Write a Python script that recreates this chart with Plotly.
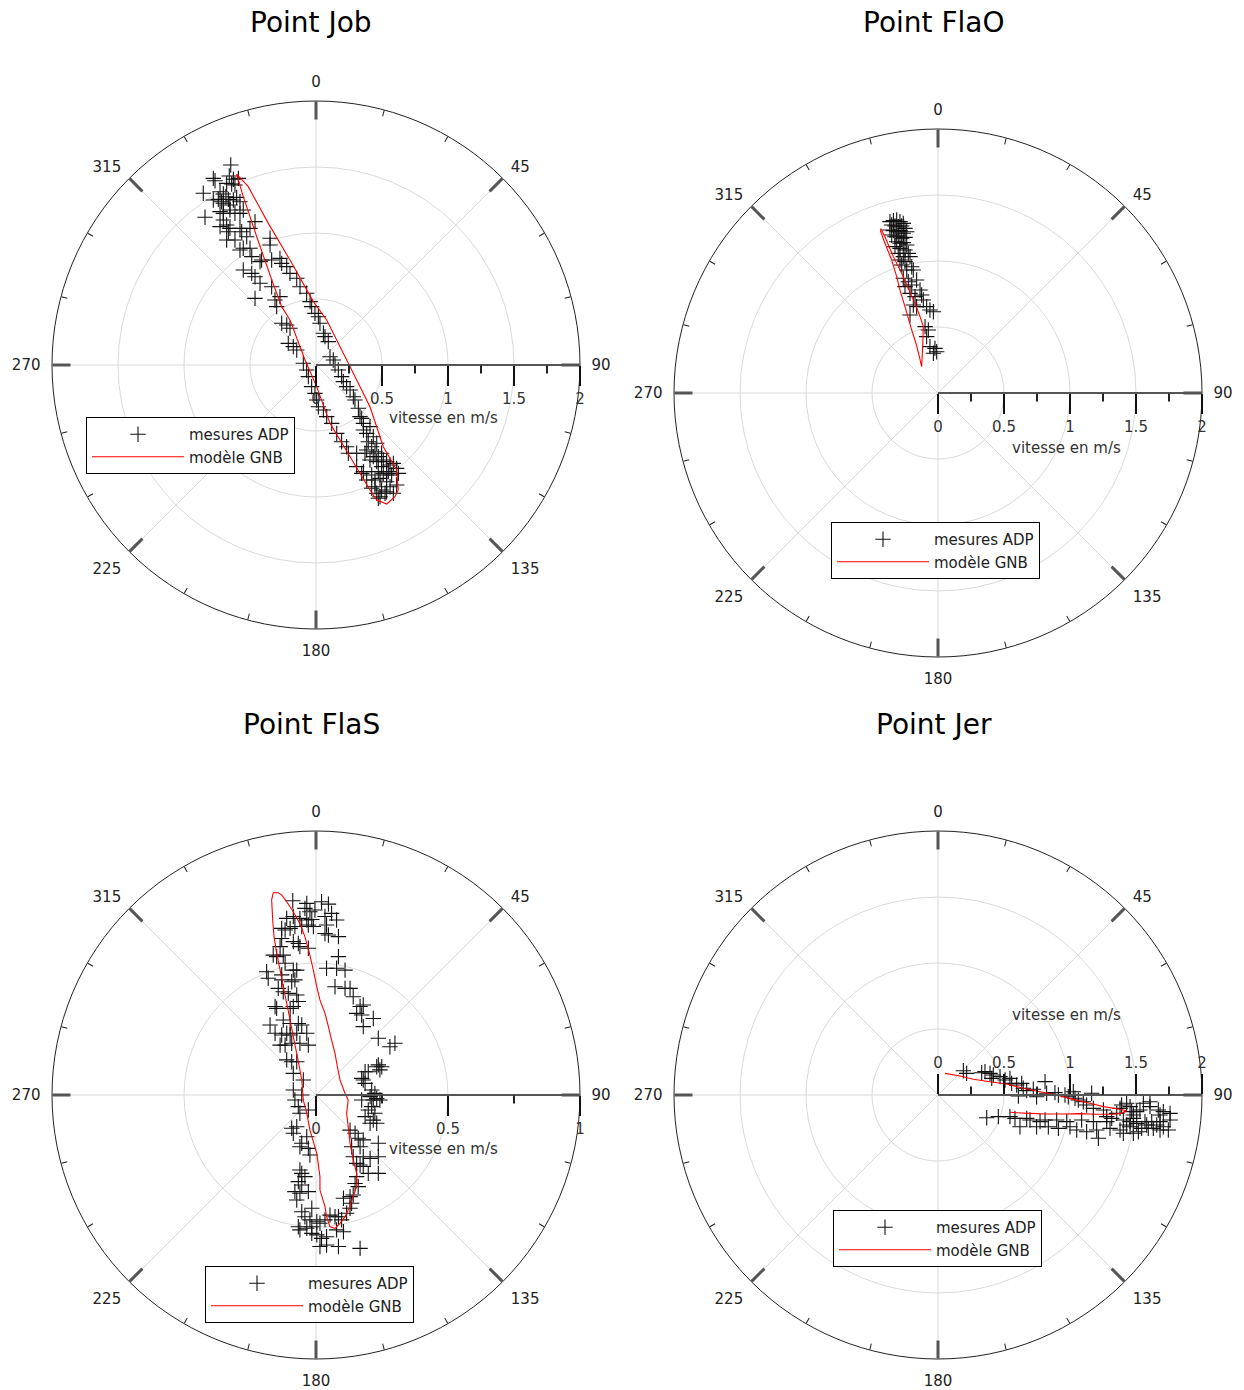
import numpy as np
import plotly.graph_objects as go

FONT = "DejaVu Sans"

# ---------------------------------------------------------------- texts / ticks
titles = ["Point Job", "Point FlaO", "Point FlaS", "Point Jer"]
angle_major = [0, 45, 90, 135, 180, 225, 270, 315]
angle_labels = ["0", "45", "90", "135", "180", "225", "270", "315"]
angle_minor = [15, 30, 60, 75, 105, 120, 150, 165, 195, 210, 240, 255, 285, 300, 330, 345]
speed_max = [2, 2, 1, 2]
speed_major = [[0, 0.5, 1, 1.5, 2], [0, 0.5, 1, 1.5, 2], [0, 0.5, 1], [0, 0.5, 1, 1.5, 2]]
speed_labels = [["0", "0.5", "1", "1.5", "2"], ["0", "0.5", "1", "1.5", "2"],
                ["0", "0.5", "1"], ["0", "0.5", "1", "1.5", "2"]]
speed_minor = [[0.25, 0.75, 1.25, 1.75], [0.25, 0.75, 1.25, 1.75], [0.25, 0.75],
               [0.25, 0.75, 1.25, 1.75]]
speed_title = "vitesse en m/s"
name_adp = "mesures ADP"
name_gnb = "modèle GNB"

# ---------------------------------------------------------------- data
# current vectors: east and north components (m/s)
# Point Job
job_adp_est = [
    -0.646, -0.778, -0.765, -0.657, -0.626, -0.588, -0.677, -0.639, -0.614, -0.854,
    -0.727, -0.702, -0.682, -0.778, -0.740, -0.715, -0.664, -0.626, -0.601, -0.702,
    -0.652, -0.576, -0.551, -0.727, -0.702, -0.652, -0.614, -0.576, -0.841, -0.702,
    -0.677, -0.727, -0.652, -0.576, -0.500, -0.462, -0.664, -0.563, -0.525, -0.677,
    -0.614, -0.576, -0.551, -0.500, -0.487, -0.424, -0.348, -0.348, -0.412, -0.336,
    -0.273, -0.260, -0.551, -0.487, -0.462, -0.424, -0.336, -0.462, -0.311, -0.298,
    -0.273,
    -0.222, -0.197, -0.146, -0.121, -0.071, -0.045, -0.033, -0.008, 0.018, 0.030,
    0.056, 0.068, 0.093,
    -0.260, -0.222, -0.197, -0.210, -0.172, -0.146, -0.096, -0.071, -0.058, -0.033,
    -0.008, 0.005, 0.018, 0.056, 0.081, 0.119, 0.157, 0.194, 0.232, 0.245,
    0.308, 0.308, 0.346, 0.384,
    0.106, 0.131, 0.144, 0.169, 0.194, 0.207, 0.232, 0.258, 0.283, 0.295,
    0.321, 0.333, 0.359,
    0.346, 0.359, 0.384, 0.409, 0.434, 0.396, 0.422, 0.460, 0.447, 0.472,
    0.497, 0.510, 0.535, 0.561, 0.586, 0.497, 0.460, 0.409, 0.371, 0.359,
    0.422, 0.447, 0.485, 0.510, 0.548, 0.573, 0.535, 0.561, 0.497, 0.523,
    0.460, 0.586, 0.472, 0.422, 0.611, 0.384, 0.434, 0.472, 0.535,
    0.485, 0.535, 0.611, 0.624, 0.447,
]
job_adp_nord = [
    1.515, 1.414, 1.396, 1.432, 1.407, 1.414, 1.376, 1.371, 1.364, 1.301,
    1.313, 1.295, 1.275, 1.250, 1.255, 1.237, 1.255, 1.250, 1.270, 1.225,
    1.212, 1.237, 1.174, 1.162, 1.149, 1.174, 1.149, 1.149, 1.119, 1.098,
    1.061, 1.048, 1.035, 1.035, 1.035, 1.086, 1.010, 1.010, 0.972, 0.947,
    0.947, 0.871, 0.884, 0.884, 0.821, 0.783, 0.960, 0.909, 0.795, 0.795,
    0.808, 0.770, 0.720, 0.694, 0.669, 0.619, 0.593, 0.505, 0.492, 0.442,
    0.518,
    0.745, 0.694, 0.657, 0.593, 0.543, 0.480, 0.442, 0.391, 0.366, 0.316,
    0.240, 0.215, 0.177,
    0.316, 0.303, 0.278, 0.164, 0.139, 0.114, 0.013, -0.038, -0.088, -0.164,
    -0.215, -0.265, -0.316, -0.341, -0.391, -0.442, -0.518, -0.581, -0.619, -0.669,
    -0.669, -0.770, -0.821, -0.871,
    0.063, 0.038, 0.000, -0.038, -0.088, -0.126, -0.164, -0.189, -0.240, -0.265,
    -0.328, -0.391, -0.442,
    -0.404, -0.492, -0.518, -0.467, -0.543, -0.581, -0.619, -0.593, -0.657, -0.694,
    -0.669, -0.720, -0.732, -0.758, -0.745, -0.770, -0.732, -0.720, -0.669, -0.808,
    -0.833, -0.871, -0.859, -0.821, -0.808, -0.833, -0.884, -0.922, -0.947, -0.972,
    -0.972, -0.972, -1.010, -0.934, -0.783, -0.644, -0.694, -0.808, -0.833,
    -0.998, -0.960, -0.909, -0.821, -0.922,
]
job_gnb_est = [-0.601, -0.513, -0.361, -0.197, -0.020, 0.081, 0.245, 0.409, 0.510, 0.611,
               0.623, 0.598, 0.536, 0.460, 0.409, 0.258, 0.106, 0.005, -0.083, -0.197,
               -0.260, -0.335, -0.449, -0.551, -0.601]
job_gnb_nord = [1.447, 1.351, 1.073, 0.795, 0.480, 0.341, 0.013, -0.316, -0.619, -0.795,
                -0.947, -0.998, -1.053, -1.023, -0.947, -0.695, -0.442, -0.164, 0.038, 0.341,
                0.442, 0.644, 0.972, 1.275, 1.447]

# Point FlaO
flao_adp_est = [
    -0.364, -0.338, -0.313, -0.288, -0.263, -0.351, -0.326, -0.301, -0.275, -0.250,
    -0.364, -0.338, -0.313, -0.288, -0.263, -0.237, -0.351, -0.326, -0.301, -0.275,
    -0.250, -0.313, -0.288, -0.263, -0.237, -0.326, -0.288, -0.250, -0.225, -0.301,
    -0.263, -0.212, -0.288, -0.250, -0.275, -0.199, -0.187, -0.237, -0.162, -0.263,
    -0.225, -0.250, -0.199, -0.136, -0.212, -0.174, -0.124, -0.111, -0.187, -0.162,
    -0.086, -0.061, -0.035, -0.212, -0.098, -0.073, -0.086, -0.061, -0.023, -0.035,
    -0.010,
]
flao_adp_nord = [
    1.298, 1.306, 1.311, 1.298, 1.285, 1.273, 1.265, 1.260, 1.265, 1.247,
    1.235, 1.230, 1.222, 1.230, 1.210, 1.222, 1.197, 1.184, 1.189, 1.172,
    1.179, 1.146, 1.134, 1.139, 1.121, 1.109, 1.096, 1.083, 1.058, 1.058,
    1.033, 1.033, 1.008, 0.995, 0.970, 0.957, 0.932, 0.932, 0.856, 0.869,
    0.843, 0.806, 0.818, 0.780, 0.755, 0.730, 0.742, 0.705, 0.667, 0.654,
    0.654, 0.629, 0.616, 0.591, 0.503, 0.477, 0.427, 0.351, 0.338, 0.301,
    0.313,
]
flao_gnb_est = [-0.434, -0.402, -0.338, -0.275, -0.225, -0.174, -0.136, -0.111, -0.116, -0.124,
                -0.141, -0.167, -0.199, -0.250, -0.288, -0.313, -0.351, -0.402, -0.434, -0.434]
flao_gnb_nord = [1.247, 1.184, 1.033, 0.907, 0.793, 0.679, 0.578, 0.503, 0.351, 0.199,
                 0.275, 0.376, 0.477, 0.654, 0.780, 0.881, 1.008, 1.134, 1.222, 1.247]

# Point FlaS
flas_adp_est = [
    -0.088, -0.035, 0.021, 0.047, -0.042, -0.023, -0.004, 0.059, -0.111, -0.086,
    -0.061, -0.035, -0.016, 0.034, 0.078, -0.130, -0.117, -0.098, -0.080, -0.054,
    -0.029, -0.010, 0.040, 0.034, 0.047, 0.085, -0.130, -0.086, -0.067, -0.029,
    -0.136, -0.061, -0.162, -0.149, -0.124, -0.117, -0.086, -0.073, 0.040, 0.078,
    0.110, 0.085, -0.187, -0.181, -0.130, -0.130, -0.092, -0.080, -0.143, -0.124,
    -0.105, -0.073, 0.072, 0.110, 0.129, 0.141, -0.155, -0.149, -0.098, -0.086,
    -0.067, 0.167, 0.179, 0.154, 0.173, 0.217, 0.179, -0.174, -0.124, -0.098,
    -0.067, -0.054, -0.155, -0.130, -0.111, -0.098, -0.073, -0.035, 0.236, -0.136,
    -0.117, -0.092, -0.061, -0.029, 0.280, 0.299, -0.111, -0.092, -0.073, -0.086,
    -0.048, -0.086, -0.054, 0.236, 0.230, 0.249, 0.242, 0.186, 0.173, 0.198,
    0.179, 0.186, 0.211, 0.223, 0.205, 0.217, 0.230, 0.242, -0.080, -0.067,
    -0.029, -0.061, 0.173, 0.211, 0.198, 0.223, 0.186, 0.217, 0.205, 0.230,
    -0.092, -0.073, -0.086, -0.035, -0.054, 0.236, -0.061, -0.029, -0.023, 0.129,
    0.148, 0.160, 0.179, 0.135, 0.167, 0.179, 0.141, 0.154, 0.167, 0.179,
    0.205, 0.236, 0.236, 0.198, 0.154, 0.148, 0.160, -0.061, -0.054, -0.042,
    -0.067, -0.054, -0.080, -0.061, -0.029, -0.073, -0.054, -0.016, -0.042, -0.023,
    0.003, 0.015, 0.034, 0.053, 0.072, 0.085, 0.097, 0.116, 0.129, 0.135,
    0.104, 0.129, 0.141, -0.061, -0.035, -0.016, 0.003, 0.021, 0.040, 0.078,
    0.104, 0.015, 0.040, 0.085, 0.167, -0.067, -0.016,
]
flas_adp_nord = [
    0.736, 0.726, 0.732, 0.723, 0.707, 0.694, 0.701, 0.688, 0.669, 0.676,
    0.669, 0.663, 0.665, 0.676, 0.663, 0.631, 0.625, 0.631, 0.638, 0.638,
    0.644, 0.638, 0.644, 0.612, 0.606, 0.600, 0.593, 0.581, 0.574, 0.556,
    0.562, 0.562, 0.530, 0.524, 0.530, 0.499, 0.473, 0.473, 0.480, 0.480,
    0.473, 0.524, 0.467, 0.442, 0.455, 0.436, 0.429, 0.436, 0.404, 0.391,
    0.385, 0.379, 0.410, 0.404, 0.404, 0.372, 0.335, 0.328, 0.328, 0.335,
    0.354, 0.335, 0.341, 0.309, 0.303, 0.290, 0.259, 0.265, 0.284, 0.271,
    0.271, 0.265, 0.234, 0.227, 0.234, 0.227, 0.234, 0.234, 0.215, 0.189,
    0.189, 0.196, 0.196, 0.189, 0.183, 0.196, 0.133, 0.126, 0.126, 0.082,
    0.057, 0.019, 0.000, 0.114, 0.107, 0.107, 0.095, 0.088, 0.063, 0.088,
    0.057, 0.044, 0.019, 0.006, -0.006, -0.019, -0.013, -0.019, -0.019, -0.044,
    -0.057, -0.069, -0.019, -0.044, -0.057, -0.069, -0.082, -0.095, -0.107, -0.107,
    -0.126, -0.120, -0.145, -0.158, -0.183, -0.183, -0.196, -0.202, -0.227, -0.133,
    -0.145, -0.164, -0.170, -0.196, -0.196, -0.234, -0.234, -0.259, -0.265, -0.271,
    -0.240, -0.297, -0.234, -0.297, -0.309, -0.335, -0.347, -0.284, -0.297, -0.309,
    -0.328, -0.341, -0.366, -0.372, -0.366, -0.398, -0.442, -0.429, -0.461, -0.473,
    -0.480, -0.486, -0.473, -0.455, -0.461, -0.461, -0.473, -0.448, -0.429, -0.410,
    -0.391, -0.385, -0.379, -0.511, -0.505, -0.524, -0.530, -0.543, -0.537, -0.511,
    -0.518, -0.574, -0.568, -0.574, -0.581, -0.499, -0.499,
]
flas_gnb_est = [
    -0.162, -0.168, -0.164, -0.159, -0.149, -0.136, -0.124, -0.111, -0.098, -0.086,
    -0.073, -0.061, -0.054, -0.048, -0.035, -0.023, 0.003, 0.015, 0.015, 0.034,
    0.040, 0.053, 0.072, 0.091, 0.110, 0.122, 0.141, 0.154, 0.154, 0.141,
    0.129, 0.122, 0.116, 0.122, 0.110, 0.091, 0.081, 0.072, 0.059, 0.047,
    0.034, 0.015, 0.003, -0.010, -0.025, -0.042, -0.061, -0.086, -0.111, -0.130,
    -0.143, -0.162,
]
flas_gnb_nord = [
    0.766, 0.739, 0.663, 0.600, 0.537, 0.473, 0.410, 0.347, 0.284, 0.221,
    0.158, 0.095, 0.057, -0.019, -0.069, -0.133, -0.221, -0.309, -0.360, -0.423,
    -0.461, -0.499, -0.505, -0.486, -0.461, -0.436, -0.385, -0.347, -0.297, -0.246,
    -0.183, -0.120, -0.069, -0.019, 0.006, 0.057, 0.107, 0.158, 0.208, 0.259,
    0.309, 0.360, 0.410, 0.473, 0.537, 0.600, 0.650, 0.694, 0.732, 0.758,
    0.766, 0.766,
]

# Point Jer
jer_adp_est = [
    0.192, 0.217, 0.331, 0.356, 0.394, 0.419, 0.407, 0.470, 0.508, 0.545,
    0.558, 0.596, 0.634, 0.646, 0.672, 0.609, 0.722, 0.747, 0.811, 0.823,
    0.886, 0.912, 0.962, 0.987, 1.025, 1.038, 1.063, 1.101, 1.164, 1.126,
    1.177, 1.253, 1.278, 1.316, 1.354, 1.379, 1.391, 1.429, 1.455, 1.467,
    1.480, 1.505, 1.530, 1.556, 1.606, 1.606, 1.669, 1.682, 1.707, 1.758,
    1.404, 1.429, 1.455, 1.480, 1.505,
    0.369, 0.457, 0.545, 0.583, 0.621, 0.672, 0.697, 0.747, 0.773, 0.811,
    0.836, 0.899, 0.912, 0.975, 1.000, 1.051, 1.088, 1.126, 1.177, 1.202,
    1.215, 1.278, 1.303, 1.379, 1.404, 1.455, 1.480, 1.518, 1.543, 1.568,
    1.581, 1.619, 1.631, 1.657, 1.682, 1.682, 1.707, 1.745, 1.758, 1.593,
]
jer_adp_nord = [
    0.184, 0.164, 0.169, 0.177, 0.164, 0.152, 0.126, 0.139, 0.114, 0.126,
    0.088, 0.076, 0.088, 0.051, 0.033, -0.008, 0.043, -0.013, 0.101, 0.013,
    0.018, 0.000, 0.000, -0.013, 0.025, -0.025, -0.038, -0.051, 0.013, -0.076,
    -0.101, -0.114, -0.164, -0.177, -0.139, -0.101, -0.076, -0.063, -0.088, -0.126,
    -0.152, -0.126, -0.114, -0.063, -0.088, -0.051, -0.114, -0.152, -0.126, -0.139,
    -0.189, -0.227, -0.202, -0.177, -0.215,
    -0.172, -0.164, -0.164, -0.177, -0.240, -0.177, -0.189, -0.240, -0.202, -0.189,
    -0.240, -0.189, -0.253, -0.202, -0.240, -0.265, -0.189, -0.278, -0.202, -0.265,
    -0.328, -0.202, -0.253, -0.265, -0.290, -0.240, -0.290, -0.278, -0.253, -0.202,
    -0.227, -0.202, -0.253, -0.227, -0.202, -0.265, -0.240, -0.265, -0.189, -0.253,
]
jer_gnb_est = [0.053, 0.167, 0.268, 0.394, 0.520, 0.646, 0.773, 0.899, 1.025, 1.152,
               1.253, 1.354, 1.429, 1.391, 1.328, 1.202, 1.076, 0.949, 0.823, 0.697,
               0.596, 0.545]
jer_gnb_nord = [0.164, 0.144, 0.119, 0.101, 0.083, 0.051, 0.025, 0.000, -0.033, -0.063,
                -0.088, -0.104, -0.119, -0.139, -0.146, -0.146, -0.141, -0.144, -0.144, -0.139,
                -0.134, -0.131]

adp_est = [job_adp_est, flao_adp_est, flas_adp_est, jer_adp_est]
adp_nord = [job_adp_nord, flao_adp_nord, flas_adp_nord, jer_adp_nord]
gnb_est = [job_gnb_est, flao_gnb_est, flas_gnb_est, jer_gnb_est]
gnb_nord = [job_gnb_nord, flao_gnb_nord, flas_gnb_nord, jer_gnb_nord]


def speed_direction(est, nord):
    est = np.asarray(est, dtype=float)
    nord = np.asarray(nord, dtype=float)
    speed = np.hypot(est, nord)
    direction = np.degrees(np.arctan2(est, nord)) % 360.0
    return speed, direction


# ---------------------------------------------------------------- layout geometry
W, H = 1244, 1390
dom_x = [[52 / W, 580 / W], [674 / W, 1202 / W], [52 / W, 580 / W], [674 / W, 1202 / W]]
dom_y = [[1 - 629 / H, 1 - 101 / H], [1 - 657 / H, 1 - 129 / H],
         [1 - 1359 / H, 1 - 831 / H], [1 - 1359 / H, 1 - 831 / H]]
radial_side = ["clockwise", "clockwise", "clockwise", "counterclockwise"]
title_pos = [(311, 22), (934, 22), (311, 724), (934, 724)]
speed_title_pos = [(443, 418), (1066, 448), (443, 1149), (1066, 1015)]
legend_pos = [(86, 417), (831, 522), (205, 1266), (833, 1210)]

fig = go.Figure()
layout = dict(width=W, height=H, autosize=False, margin=dict(l=0, r=0, t=0, b=0),
              paper_bgcolor="white", plot_bgcolor="white",
              font=dict(family=FONT, size=15, color="#222"), annotations=[])

for i in range(4):
    sub = "polar" if i == 0 else f"polar{i + 1}"
    sub_major = f"polar{i + 5}"
    sub_minor = f"polar{i + 9}"
    leg = "legend" if i == 0 else f"legend{i + 1}"

    r_adp, th_adp = speed_direction(adp_est[i], adp_nord[i])
    r_gnb, th_gnb = speed_direction(gnb_est[i], gnb_nord[i])

    fig.add_trace(go.Scatterpolar(
        r=r_adp, theta=th_adp, mode="markers", name=name_adp, subplot=sub, legend=leg,
        marker=dict(symbol="cross-thin", size=11, color="black",
                    line=dict(color="#111", width=1.1)),
        hoverinfo="skip"))
    fig.add_trace(go.Scatterpolar(
        r=r_gnb, theta=th_gnb, mode="lines", name=name_gnb, subplot=sub, legend=leg,
        line=dict(color="red", width=1.1), hoverinfo="skip"))
    for s in (sub_major, sub_minor):
        fig.add_trace(go.Scatterpolar(r=[], theta=[], subplot=s, showlegend=False,
                                      hoverinfo="skip"))

    # main axes: grid, axis lines, labels (labels pushed out by invisible outside ticks)
    layout[sub] = dict(
        domain=dict(x=dom_x[i], y=dom_y[i]), bgcolor="white",
        angularaxis=dict(rotation=90, direction="clockwise", tickmode="array",
                         tickvals=angle_major, ticktext=angle_labels, ticks="outside",
                         ticklen=8, tickwidth=1, tickcolor="rgba(0,0,0,0)", showline=True,
                         linecolor="#222", linewidth=1, showgrid=True,
                         gridcolor="#dadada", gridwidth=1,
                         tickfont=dict(family=FONT, size=15, color="#222")),
        radialaxis=dict(range=[0, speed_max[i]], tickmode="array", tickvals=speed_major[i],
                        ticktext=speed_labels[i], ticks="outside", ticklen=20, tickwidth=2,
                        tickcolor="#111", showline=True, linecolor="#555", linewidth=2,
                        showgrid=True, gridcolor="#dadada", gridwidth=1, angle=0,
                        side=radial_side[i], tickangle=0,
                        tickfont=dict(family=FONT, size=15, color="#333")))
    # overlay: major angular ticks (inside) + minor radial ticks
    layout[sub_major] = dict(
        domain=dict(x=dom_x[i], y=dom_y[i]), bgcolor="rgba(0,0,0,0)",
        angularaxis=dict(rotation=90, direction="clockwise", tickmode="array",
                         tickvals=angle_major, ticks="inside", ticklen=18, tickwidth=2.5,
                         tickcolor="#555", showticklabels=False, showline=False,
                         showgrid=False),
        radialaxis=dict(range=[0, speed_max[i]], tickmode="array", tickvals=speed_minor[i],
                        ticks="outside", ticklen=8, tickwidth=1.5, tickcolor="#222",
                        showticklabels=False, showline=False, showgrid=False, angle=0,
                        side=radial_side[i]))
    # overlay: minor angular ticks
    layout[sub_minor] = dict(
        domain=dict(x=dom_x[i], y=dom_y[i]), bgcolor="rgba(0,0,0,0)",
        angularaxis=dict(rotation=90, direction="clockwise", tickmode="array",
                         tickvals=angle_minor, ticks="inside", ticklen=6, tickwidth=1,
                         tickcolor="#222", showticklabels=False, showline=False,
                         showgrid=False),
        radialaxis=dict(range=[0, speed_max[i]], showticklabels=False, ticks="",
                        showline=False, showgrid=False))
    lx, ly = legend_pos[i]
    layout[leg] = dict(x=lx / W, y=1 - ly / H, xanchor="left", yanchor="top",
                       bgcolor="white", bordercolor="black", borderwidth=1,
                       font=dict(family=FONT, size=15, color="#222"),
                       itemwidth=92, tracegroupgap=0)
    tx, ty = title_pos[i]
    layout["annotations"].append(dict(
        text=titles[i], x=tx / W, y=1 - ty / H, xref="paper", yref="paper",
        xanchor="center", yanchor="middle", showarrow=False,
        font=dict(family=FONT, size=28, color="black")))
    sx, sy = speed_title_pos[i]
    layout["annotations"].append(dict(
        text=speed_title, x=sx / W, y=1 - sy / H, xref="paper", yref="paper",
        xanchor="center", yanchor="middle", showarrow=False,
        font=dict(family=FONT, size=15, color="#333")))

fig.update_layout(**layout)
fig.write_html("out.html", config={"displayModeBar": False},
               post_script="document.body.style.margin='0';")
